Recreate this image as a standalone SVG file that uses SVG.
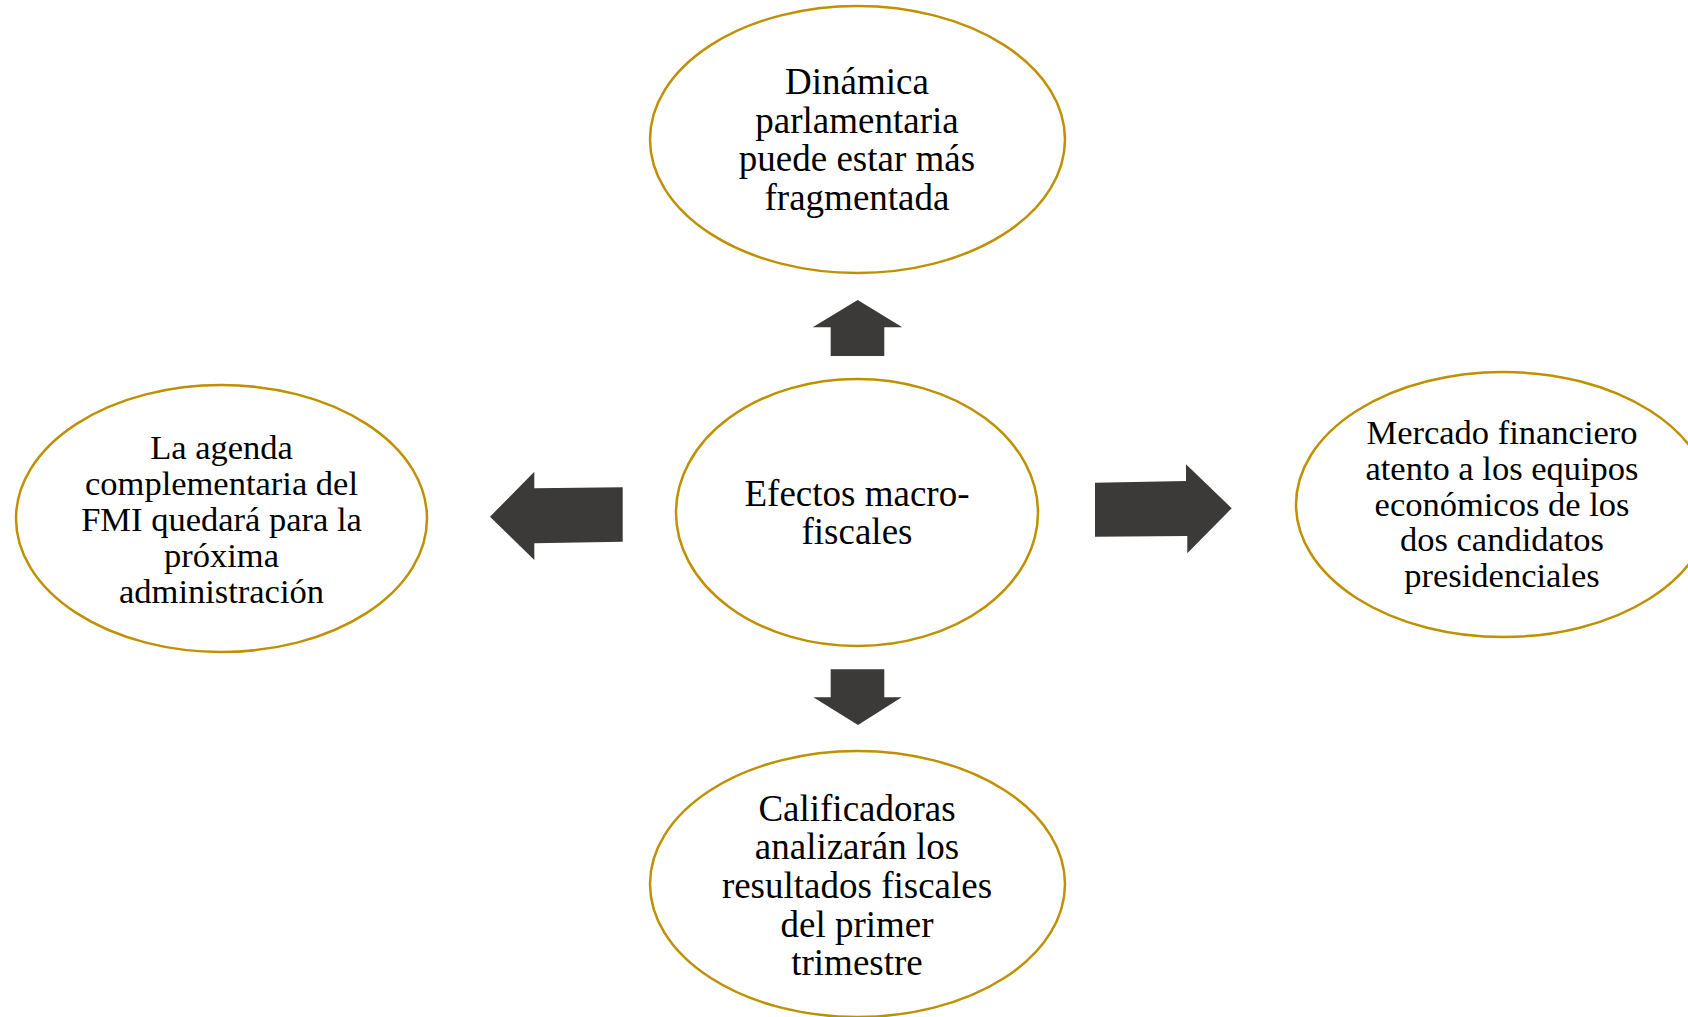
<svg xmlns="http://www.w3.org/2000/svg" width="1688" height="1017" viewBox="0 0 1688 1017">
<style>
.node ellipse{fill:#fff;stroke:#bf9000;stroke-width:2.5}
.t{font-family:"Liberation Serif","Times New Roman",serif;fill:#000;text-anchor:middle}
.big{font-size:37px}
.sm{font-size:34.5px}
.arr{fill:#3b3a38}
</style>
<rect width="1688" height="1017" fill="#fff"/>
<g id="connectors">
<polygon class="arr" points="857.7,300 902.3,327.3 884.3,327.3 884.3,356 830.7,356 830.7,327.3 812.7,327.3"/>
<polygon class="arr" points="830.7,669.3 884.3,669.3 884.3,697.3 901.7,697.3 858,725 813.3,697.3 830.7,697.3"/>
<polygon class="arr" points="490,516.7 534.3,471.7 534.3,488.3 622.7,487.3 622.7,541.7 534.3,543.3 534.3,560"/>
<polygon class="arr" points="1095,482.7 1186,481 1186,464.3 1231.7,508.3 1187.3,553.3 1187.3,536 1095,536.7"/>
</g>
<g id="node-top" class="node">
<ellipse cx="857.5" cy="139.5" rx="207.5" ry="133.5"/>
<text class="t big"><tspan x="857" y="94">Dinámica</tspan><tspan x="857" y="132.5">parlamentaria</tspan><tspan x="857" y="171">puede estar más</tspan><tspan x="857" y="209.5">fragmentada</tspan></text>
</g>
<g id="node-center" class="node">
<ellipse cx="857" cy="512.5" rx="181" ry="133.5"/>
<text class="t big"><tspan x="857" y="506">Efectos macro-</tspan><tspan x="857" y="544">fiscales</tspan></text>
</g>
<g id="node-left" class="node">
<ellipse cx="221.5" cy="518.5" rx="205.5" ry="133.5"/>
<text class="t sm"><tspan x="221.5" y="459">La agenda</tspan><tspan x="221.5" y="495">complementaria del</tspan><tspan x="221.5" y="531">FMI quedará para la</tspan><tspan x="221.5" y="567">próxima</tspan><tspan x="221.5" y="603">administración</tspan></text>
</g>
<g id="node-right" class="node">
<ellipse cx="1503.5" cy="504.5" rx="207.5" ry="132.5"/>
<text class="t sm"><tspan x="1502" y="444">Mercado financiero</tspan><tspan x="1502" y="479.8">atento a los equipos</tspan><tspan x="1502" y="515.6">económicos de los</tspan><tspan x="1502" y="551.4">dos candidatos</tspan><tspan x="1502" y="587.2">presidenciales</tspan></text>
</g>
<g id="node-bottom" class="node">
<ellipse cx="857.5" cy="884" rx="207.5" ry="133"/>
<text class="t big"><tspan x="857" y="820.5">Calificadoras</tspan><tspan x="857" y="859">analizarán los</tspan><tspan x="857" y="898">resultados fiscales</tspan><tspan x="857" y="936.5">del primer</tspan><tspan x="857" y="975">trimestre</tspan></text>
</g>
</svg>
